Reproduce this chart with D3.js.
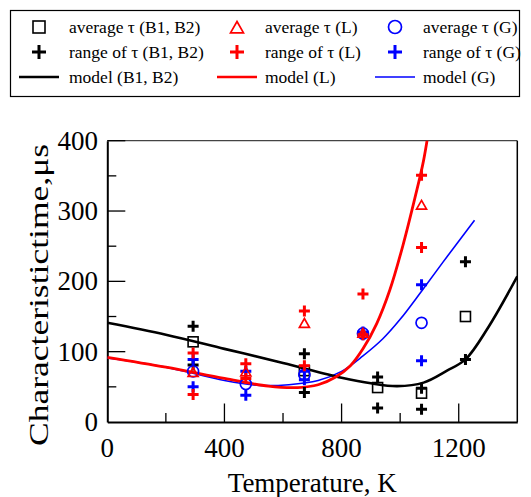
<!DOCTYPE html>
<html><head><meta charset="utf-8">
<script src="https://cdn.jsdelivr.net/npm/d3@7"></script>
<style>body{margin:0;background:#fff}svg{display:block}</style>
</head><body>
<script>
// ---------- data ----------
const tempsB = [293, 673, 923, 1073, 1223];
const avgB = [114, 73, 49, 41, 150];
const rangeHiB = [136, 97, 64, 48, 228];
const rangeLoB = [81, 42, 20, 18, 89];

const tempsL = [293, 473, 673, 873, 1073];
const avgL = [70, 71, 140, 126, 308];
const rangeHiL = [98, 83, 158, 182, 351];
const rangeLoL = [39, 62, 80, 124, 248];

const tempsG = [293, 473, 673, 873, 1073];
const avgG = [72, 54, 67, 126, 141];
const rangeHiG = [89, 72, 72, 128, 195];
const rangeLoG = [50, 38, 60, 124, 87];

const modelT_B = [0, 200, 400, 600, 800, 900, 990, 1080, 1160, 1223, 1300, 1400];
const modelV_B = [141, 124, 104, 84, 63, 55, 51, 56, 73, 89, 134, 207];
const modelT_L = [0, 200, 400, 550, 650, 720, 780, 830, 873, 920, 965, 1010, 1050, 1080, 1110];
const modelV_L = [92, 78, 62, 51, 49, 53, 64, 80, 104, 140, 188, 252, 318, 372, 450];
const modelT_G = [0, 200, 400, 520, 620, 720, 800, 873, 940, 1000, 1073, 1160, 1254];
const modelV_G = [91, 78, 59, 52, 53, 59, 72, 94, 118, 146, 186, 235, 287];

const xTicks = [0, 400, 800, 1200];
const yTicks = [0, 100, 200, 300, 400];

const legendLabels = [
  ["average τ (B1, B2)", "average τ (L)", "average τ (G)"],
  ["range of τ (B1, B2)", "range of τ (L)", "range of τ (G)"],
  ["model (B1, B2)", "model (L)", "model (G)"]
];
const colors = ["#000000", "#ff0000", "#0000ff"];

// ---------- layout ----------
const W = 531, H = 497;
const svg = d3.select("body").append("svg").attr("width", W).attr("height", H);
const FONT = "'Liberation Serif','Times New Roman',serif";

const x = d3.scaleLinear().domain([0, 1400]).range([107.3, 517.3]);
const y = d3.scaleLinear().domain([0, 400]).range([422, 140.7]);

svg.append("defs").append("clipPath").attr("id", "clip")
  .append("rect").attr("x", x(0)).attr("y", y(400)).attr("width", x(1400) - x(0)).attr("height", y(0) - y(400));

// frame (top/right)
svg.append("line").attr("x1", x(0)).attr("x2", x(1400)).attr("y1", y(400)).attr("y2", y(400))
  .attr("stroke", "#444").attr("stroke-width", 1.3);
svg.append("line").attr("x1", x(1400)).attr("x2", x(1400)).attr("y1", y(400)).attr("y2", y(0))
  .attr("stroke", "#000").attr("stroke-width", 1.5);

// x axis
const gx = svg.append("g").attr("transform", `translate(0,${y(0)})`)
  .call(d3.axisBottom(x).tickValues([]).tickSize(0));
gx.select(".domain").attr("stroke", "#000").attr("stroke-width", 2);
d3.range(200, 1400, 200).forEach(v => {
  const major = v % 400 === 0;
  gx.append("line").attr("x1", x(v)).attr("x2", x(v)).attr("y1", 0).attr("y2", major ? -18.5 : -9)
    .attr("stroke", "#000").attr("stroke-width", 1.3);
});
svg.append("g").selectAll("text").data(xTicks).join("text")
  .attr("x", d => x(d)).attr("y", 457).attr("text-anchor", "middle")
  .attr("font-family", FONT).attr("font-size", 27).attr("fill", "#000").text(d => d);

// y axis
const gy = svg.append("g").attr("transform", `translate(${x(0)},0)`)
  .call(d3.axisLeft(y).tickValues([]).tickSize(0));
gy.select(".domain").attr("stroke", "#000").attr("stroke-width", 2);
d3.range(50, 401, 50).forEach(v => {
  const major = v % 100 === 0;
  gy.append("line").attr("x1", 0).attr("x2", major ? 18 : 9).attr("y1", y(v)).attr("y2", y(v))
    .attr("stroke", "#000").attr("stroke-width", 1.3);
});
svg.append("g").selectAll("text").data(yTicks).join("text")
  .attr("x", 98).attr("y", d => y(d) + 9).attr("text-anchor", "end")
  .attr("font-family", FONT).attr("font-size", 27).attr("fill", "#000").text(d => d);

// axis titles
svg.append("text").attr("x", x(700)).attr("y", 492).attr("text-anchor", "middle")
  .attr("font-family", FONT).attr("font-size", 27).attr("fill", "#000").text("Temperature, K");
svg.append("text").attr("transform", "translate(48,295) rotate(-90)").attr("text-anchor", "middle")
  .attr("font-family", FONT).attr("font-size", 28).attr("fill", "#000")
  .attr("textLength", 302).attr("lengthAdjust", "spacingAndGlyphs")
  .text("Characteristictime,μs");

// ---------- models ----------
const plot = svg.append("g").attr("clip-path", "url(#clip)");
const line = d3.line().x(d => x(d[0])).y(d => y(d[1])).curve(d3.curveCatmullRom.alpha(0.5));
plot.append("path").datum(d3.zip(modelT_G, modelV_G)).attr("d", line)
  .attr("fill", "none").attr("stroke", colors[2]).attr("stroke-width", 1.6);
plot.append("path").datum(d3.zip(modelT_B, modelV_B)).attr("d", line)
  .attr("fill", "none").attr("stroke", colors[0]).attr("stroke-width", 2.6);
plot.append("path").datum(d3.zip(modelT_L, modelV_L)).attr("d", line)
  .attr("fill", "none").attr("stroke", colors[1]).attr("stroke-width", 2.8);

// ---------- markers ----------
function plus(g, cx, cy, s, sw, c) {
  g.append("path").attr("d", `M${cx - s},${cy}H${cx + s}M${cx},${cy - s}V${cy + s}`)
    .attr("stroke", c).attr("stroke-width", sw).attr("fill", "none");
}
function square(g, cx, cy, s, c) {
  g.append("rect").attr("x", cx - s).attr("y", cy - s).attr("width", 2 * s).attr("height", 2 * s)
    .attr("fill", "none").attr("stroke", c).attr("stroke-width", 1.6);
}
function tri(g, cx, cy, s, c) {
  g.append("path").attr("d", `M${cx},${cy - s}L${cx + s},${cy + s * 0.75}L${cx - s},${cy + s * 0.75}Z`)
    .attr("fill", "none").attr("stroke", c).attr("stroke-width", 1.7);
}
function circ(g, cx, cy, r, c) {
  g.append("circle").attr("cx", cx).attr("cy", cy).attr("r", r)
    .attr("fill", "none").attr("stroke", c).attr("stroke-width", 1.7);
}
const mk = svg.append("g");
tempsB.forEach((t, i) => {
  plus(mk, x(t), y(rangeHiB[i]), 5.5, 3, colors[0]);
  plus(mk, x(t), y(rangeLoB[i]), 5.5, 3, colors[0]);
  square(mk, x(t), y(avgB[i]), 5, colors[0]);
});
tempsG.forEach((t, i) => {
  circ(mk, x(t), y(avgG[i]), 5.5, colors[2]);
  plus(mk, x(t), y(rangeHiG[i]), 5.5, 3, colors[2]);
  plus(mk, x(t), y(rangeLoG[i]), 5.5, 3, colors[2]);
});
tempsL.forEach((t, i) => {
  tri(mk, x(t), y(avgL[i]), 5, colors[1]);
  plus(mk, x(t), y(rangeHiL[i]), 5.5, 3, colors[1]);
  plus(mk, x(t), y(rangeLoL[i]), 5.5, 3, colors[1]);
});

// ---------- legend ----------
const lg = svg.append("g");
lg.append("rect").attr("x", 10.5).attr("y", 10.5).attr("width", 509).attr("height", 86)
  .attr("fill", "#fff").attr("stroke", "#000").attr("stroke-width", 1.2);
const colSym = [39, 237, 395];
const colTxt = [69, 265, 423];
const rowY = [27, 52, 77];
for (let c = 0; c < 3; c++) {
  const col = colors[c];
  if (c === 0) square(lg, colSym[c], rowY[0], 6, col);
  if (c === 1) tri(lg, colSym[c], rowY[0] + 1, 6.5, col);
  if (c === 2) circ(lg, colSym[c], rowY[0], 6.5, col);
  plus(lg, colSym[c], rowY[1], 7, 3, col);
  lg.append("line").attr("x1", colSym[c] - 20).attr("x2", colSym[c] + 20).attr("y1", rowY[2]).attr("y2", rowY[2])
    .attr("stroke", col).attr("stroke-width", c === 2 ? 1.6 : 2.6);
  for (let r = 0; r < 3; r++) {
    lg.append("text").attr("x", colTxt[c]).attr("y", rowY[r] + 6)
      .attr("font-family", FONT).attr("font-size", 17.5).attr("fill", "#000").text(legendLabels[r][c]);
  }
}
</script>
</body></html>
